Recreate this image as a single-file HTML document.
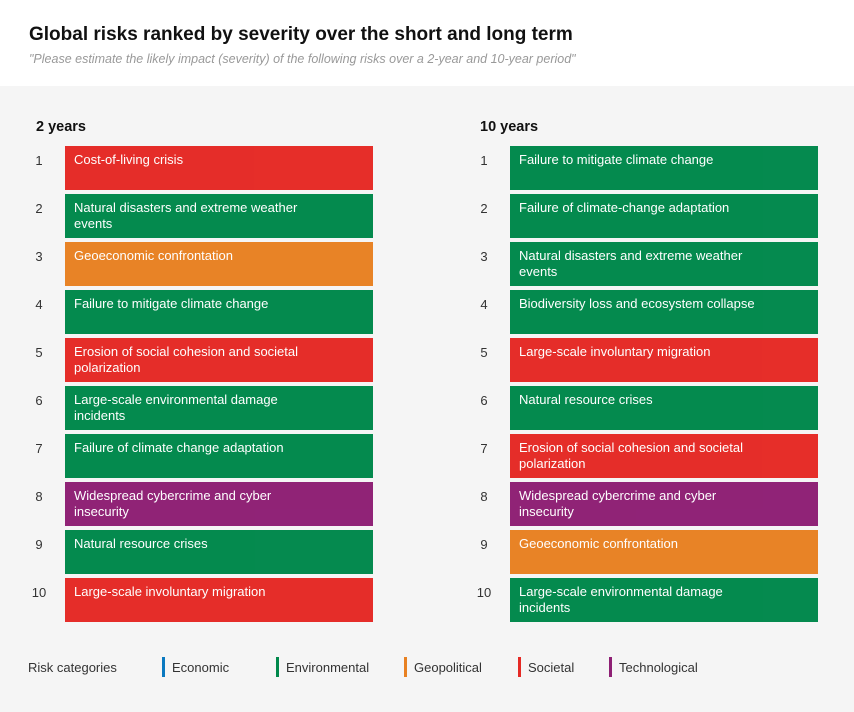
<!DOCTYPE html>
<html><head><meta charset="utf-8"><style>
body{margin:0;width:854px;height:712px;background:#fff;font-family:"Liberation Sans",sans-serif;position:relative;overflow:hidden}
.abs{position:absolute}
#panel{left:0;top:86px;width:854px;height:626px;background:#f5f5f5}
.num{position:absolute;width:30px;text-align:center;font-size:13px;color:#333}
.bar{position:absolute;width:308px;height:44px;color:#fff;font-size:13px;line-height:16px;padding:6px 9px;box-sizing:border-box;opacity:.98}
.leg{position:absolute;top:660px;font-size:13px;color:#333}
.sw{position:absolute;top:657px;width:3px;height:20px}
</style></head><body>
<div class="abs" style="left:29px;top:24px;font-size:19px;font-weight:bold;color:#111">Global risks ranked by severity over the short and long term</div>
<div class="abs" style="left:29px;top:52px;font-size:12.5px;font-style:italic;color:#999">"Please estimate the likely impact (severity) of the following risks over a 2-year and 10-year period"</div>
<div id="panel" class="abs"></div>
<div class="abs" style="left:36px;top:119px;font-size:14.5px;font-weight:bold;color:#111">2 years</div>
<div class="abs" style="left:480px;top:119px;font-size:14.5px;font-weight:bold;color:#111">10 years</div>
<div id="rows"></div>
<div class="leg" style="left:28px">Risk categories</div>
<div id="legend"></div>
<script>
const colors={Economic:"#0a79c0",Environmental:"#00884b",Geopolitical:"#e88122",Societal:"#e52a25",Technological:"#8e1f74"};
const shortTermRisks=["Cost-of-living crisis","Natural disasters and extreme weather events","Geoeconomic confrontation","Failure to mitigate climate change","Erosion of social cohesion and societal polarization","Large-scale environmental damage incidents","Failure of climate change adaptation","Widespread cybercrime and cyber insecurity","Natural resource crises","Large-scale involuntary migration"];
const shortTermCats=["Societal","Environmental","Geopolitical","Environmental","Societal","Environmental","Environmental","Technological","Environmental","Societal"];
const longTermRisks=["Failure to mitigate climate change","Failure of climate-change adaptation","Natural disasters and extreme weather events","Biodiversity loss and ecosystem collapse","Large-scale involuntary migration","Natural resource crises","Erosion of social cohesion and societal polarization","Widespread cybercrime and cyber insecurity","Geoeconomic confrontation","Large-scale environmental damage incidents"];
const longTermCats=["Environmental","Environmental","Environmental","Environmental","Societal","Environmental","Societal","Technological","Geopolitical","Environmental"];
const legendCats=["Economic","Environmental","Geopolitical","Societal","Technological"];
const legendX=[162,276,404,518,609];
const rows=document.getElementById('rows');
function col(risks,cats,bx,nx,prefix){
  risks.forEach((r,i)=>{
    const y=146+i*48;
    const n=document.createElement('div');n.className='num';
    
    
    n.style.left=nx+'px';n.style.top=(y+7)+'px';n.textContent=i+1;rows.appendChild(n);
    const b=document.createElement('div');b.className='bar';
    
    
    b.style.left=bx+'px';b.style.top=y+'px';b.style.background=colors[cats[i]];
    b.innerHTML='<div style="width:250px">'+r+'</div>';rows.appendChild(b);
  });
}
col(shortTermRisks,shortTermCats,65,24,'2-year');
col(longTermRisks,longTermCats,510,469,'10-year');
const lg=document.getElementById('legend');
legendCats.forEach((c,i)=>{
  const s=document.createElement('div');s.className='sw';
  
  
  s.style.left=legendX[i]+'px';s.style.background=colors[c];lg.appendChild(s);
  const t=document.createElement('div');t.className='leg';
  
  
  t.style.left=(legendX[i]+10)+'px';t.textContent=c;lg.appendChild(t);
});
</script>
</body></html>
